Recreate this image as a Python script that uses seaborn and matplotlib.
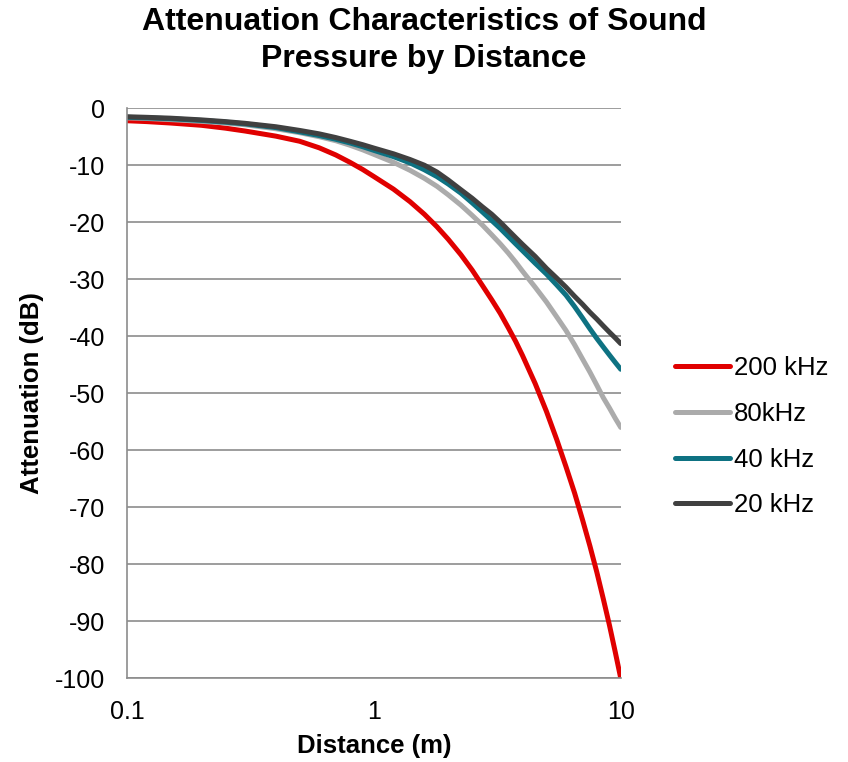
import numpy as np
import pandas as pd
import matplotlib
matplotlib.use("Agg")
import matplotlib.pyplot as plt
import seaborn as sns

# distance (m) and attenuation (dB)
distance = [0.1, 0.12, 0.15, 0.2, 0.25, 0.3, 0.4, 0.5, 0.6, 0.7, 0.8, 0.9, 1.0,
            1.2, 1.4, 1.6, 1.8, 2.0, 2.25, 2.5, 2.75, 3.0, 3.25, 3.5, 3.75, 4.0,
            4.5, 5.0, 5.5, 6.0, 6.5, 7.0, 7.5, 8.0, 8.5, 9.0, 9.5, 10.0]
att_200k = [-2.2, -2.35, -2.6, -3.0, -3.5, -4.0, -4.9, -5.8, -6.95, -8.2, -9.5, -10.75, -12.0,
            -14.2, -16.4, -18.6, -20.8, -23.0, -25.7, -28.4, -31.1, -33.6, -36.0, -38.5, -40.9, -43.4,
            -48.3, -53.2, -58.1, -62.9, -67.5, -72.2, -76.8, -81.4, -86.1, -90.7, -95.4, -100.0]
att_80k = [-1.7, -1.8, -2.0, -2.3, -2.6, -2.9, -3.6, -4.3, -5.0, -5.7, -6.5, -7.3, -8.1,
           -9.5, -10.9, -12.3, -13.7, -15.2, -17.0, -18.8, -20.5, -22.2, -23.8, -25.4, -27.0, -28.6,
           -31.4, -34.0, -36.6, -39.0, -41.5, -44.0, -46.3, -48.6, -50.8, -52.6, -54.4, -56.0]
att_40k = [-1.6, -1.7, -1.85, -2.15, -2.45, -2.75, -3.4, -4.15, -4.8, -5.45, -6.1, -6.75, -7.4,
           -8.5, -9.6, -10.8, -12.0, -13.3, -14.9, -16.6, -18.2, -19.7, -21.1, -22.5, -23.8, -25.0,
           -27.2, -29.1, -31.0, -32.8, -34.8, -36.8, -38.7, -40.4, -41.9, -43.3, -44.6, -45.8]
att_20k = [-1.5, -1.6, -1.75, -2.05, -2.35, -2.65, -3.25, -3.9, -4.5, -5.15, -5.8, -6.4, -7.0,
           -8.0, -9.0, -10.0, -11.2, -12.6, -14.3, -15.8, -17.3, -18.6, -20.0, -21.4, -22.7, -23.9,
           -26.0, -28.1, -29.8, -31.4, -33.0, -34.4, -35.8, -37.0, -38.2, -39.3, -40.3, -41.3]

labels = ["200 kHz", "80kHz", "40 kHz", "20 kHz"]
colors = ["#E00000", "#ABABAB", "#0E7282", "#404040"]

df = pd.DataFrame({
    "distance": distance * 4,
    "attenuation": att_200k + att_80k + att_40k + att_20k,
    "series": [lab for lab in labels for _ in distance],
})

sns.set_style("white")
plt.rcParams["font.family"] = ["Liberation Sans", "DejaVu Sans"]
plt.rcParams["text.color"] = "black"
plt.rcParams["axes.labelcolor"] = "black"
plt.rcParams["xtick.color"] = "black"
plt.rcParams["ytick.color"] = "black"

fig = plt.figure(figsize=(8.48, 7.62), dpi=100)
ax = fig.add_axes([0.150, 0.110, 0.582, 0.748])

sns.lineplot(data=df, x="distance", y="attenuation", hue="series",
             hue_order=labels, palette=colors, linewidth=3.6, ax=ax)

ax.set_xscale("log")
ax.set_xlim(0.1, 10)
ax.set_ylim(-100, 0)
ax.set_xticks([0.1, 1, 10])
ax.set_xticklabels(["0.1", "1", "10"])
ax.set_yticks(range(-100, 1, 10))
ax.set_yticklabels([str(v) for v in range(-100, 1, 10)])
ax.minorticks_off()
ax.tick_params(axis="both", length=0, labelsize=18)
ax.tick_params(axis="y", pad=16)
ax.tick_params(axis="x", pad=16)
ax.yaxis.grid(True, color="#8C8C8C", linewidth=1.2)
ax.set_axisbelow(True)

for side in ["top", "right"]:
    ax.spines[side].set_visible(False)
for side in ["left", "bottom"]:
    ax.spines[side].set_color("#8C8C8C")
    ax.spines[side].set_linewidth(1.2)

ax.set_xlabel("Distance (m)", fontsize=18.5, fontweight="bold", labelpad=7)
ax.set_ylabel("Attenuation (dB)", fontsize=18.5, fontweight="bold", labelpad=8)

fig.suptitle("Attenuation Characteristics of Sound\nPressure by Distance",
             fontsize=23, fontweight="bold", x=0.5, y=0.991, va="top",
             linespacing=1.3)

ax.legend(loc="center left", bbox_to_anchor=(0.796, 0.427),
          bbox_transform=fig.transFigure, frameon=False, fontsize=18.5,
          handlelength=2.15, handletextpad=0.15, labelspacing=0.85,
          borderpad=0, borderaxespad=0)

fig.savefig("out.png", dpi=100)
